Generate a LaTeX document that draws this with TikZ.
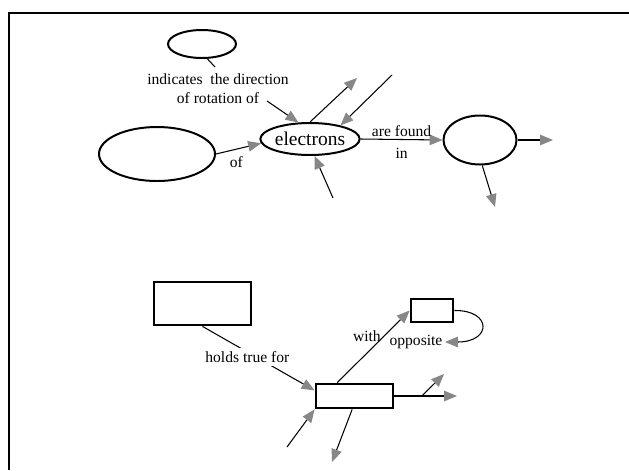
\documentclass[tikz,border=0pt]{standalone}
\usepackage{fontspec}
\setmainfont{Liberation Serif}
\usetikzlibrary{arrows.meta,shapes.geometric}

\definecolor{tipgray}{gray}{0.53}

\tikzset{
  oval/.style={ellipse, draw, line width=1.7pt, inner sep=0pt},
  box/.style={rectangle, draw, line width=2.4pt, inner sep=0pt},
  link/.style={line width=0.9pt},
  conn/.style={link, -{Triangle[length=11pt, width=9pt, color=tipgray]}},
  lab/.style={font=\fontsize{13.3}{16}\selectfont, inner sep=2pt},
}

\begin{document}
\begin{tikzpicture}[x=0.03cm, y=-0.03cm]

      % one unit = one pixel of the sheet, y runs downwards
      \def\pix{0.03cm}
      \useasboundingbox (0,0) rectangle (629,470);

      % sheet border (only the left and top edges show)
      \draw[line width=1.7pt] (9,470) -- (9,13) -- (629,13);

      % --- upper map: ovals round the electrons
      \node[oval, minimum width=68*\pix, minimum height=28*\pix] (topoval) at (202,44) {};
      \node[oval, minimum width=116*\pix, minimum height=54*\pix] (leftoval) at (157,154) {};
      \node[oval, minimum width=87*\pix, minimum height=32*\pix,
            font=\fontsize{16.6}{18}\selectfont] (electrons) at (310,139) {electrons};
      \node[oval, minimum width=73*\pix, minimum height=49*\pix] (rightoval) at (480,140) {};

      % loose ends of the open links
      \coordinate (e1) at (357,78);
      \coordinate (e2) at (392,75);
      \coordinate (e3) at (333,198);
      \coordinate (r1) at (553,140);
      \coordinate (r2) at (495,207);

      % direction link, broken by its two-line label
      \node[lab, align=center] (dirlab) at (218,89)
            {indicates\ \ the direction\\of rotation of};
      \coordinate (d1) at (215,67);
      \coordinate (d2) at (267,101);
      \draw[link] (topoval.-70) -- (d1);
      \draw[conn] (d2) -- (electrons.125);

      \draw[conn] (leftoval.east) -- node[lab, below=4*\pix, pos=0.45] {of} (electrons.185);
      \draw[conn] (electrons.east) -- node[lab, above] {are found}
                                      node[lab, below=6*\pix] {in} (rightoval.west);

      \draw[conn] (electrons.north) -- (e1);
      \draw[conn] (e2) -- (electrons.24);
      \draw[conn] (e3) -- (electrons.-75);
      \draw[conn] (rightoval.east) -- (r1);
      \draw[conn] (rightoval.-85) -- (r2);

      % --- lower map: three boxes
      \node[box, minimum width=97*\pix, minimum height=43*\pix] (bigbox) at (202.5,303.5) {};
      \node[box, minimum width=77*\pix, minimum height=24*\pix] (midbox) at (354.5,396) {};
      \node[box, minimum width=42*\pix, minimum height=23*\pix] (smallbox) at (432,310.5) {};
      \node[lab] (opp) at (416,342) {opposite};

      \coordinate (m1) at (457,396);
      \coordinate (m2) at (444,374);
      \coordinate (m3) at (287,447);
      \coordinate (m4) at (332,462);

      \draw[conn] (bigbox.south) -- node[lab, fill=white, pos=0.4, yshift=-5*\pix,
            inner ysep=3pt] {holds true for} (midbox.172);
      \draw[conn] (midbox.142) -- node[lab, left, pos=0.64] {with} (smallbox.west);
      \draw[conn] (smallbox.east) .. controls (492,310) and (492,342) .. (opp.east);

      \draw[conn] (midbox.east) -- coordinate[pos=0.44] (fork) (m1);
      \draw[conn] (fork) -- (m2);
      \draw[conn] (m3) -- (midbox.south west);
      \draw[conn] (midbox.-100) -- (m4);

    \end{tikzpicture}
\end{document}
